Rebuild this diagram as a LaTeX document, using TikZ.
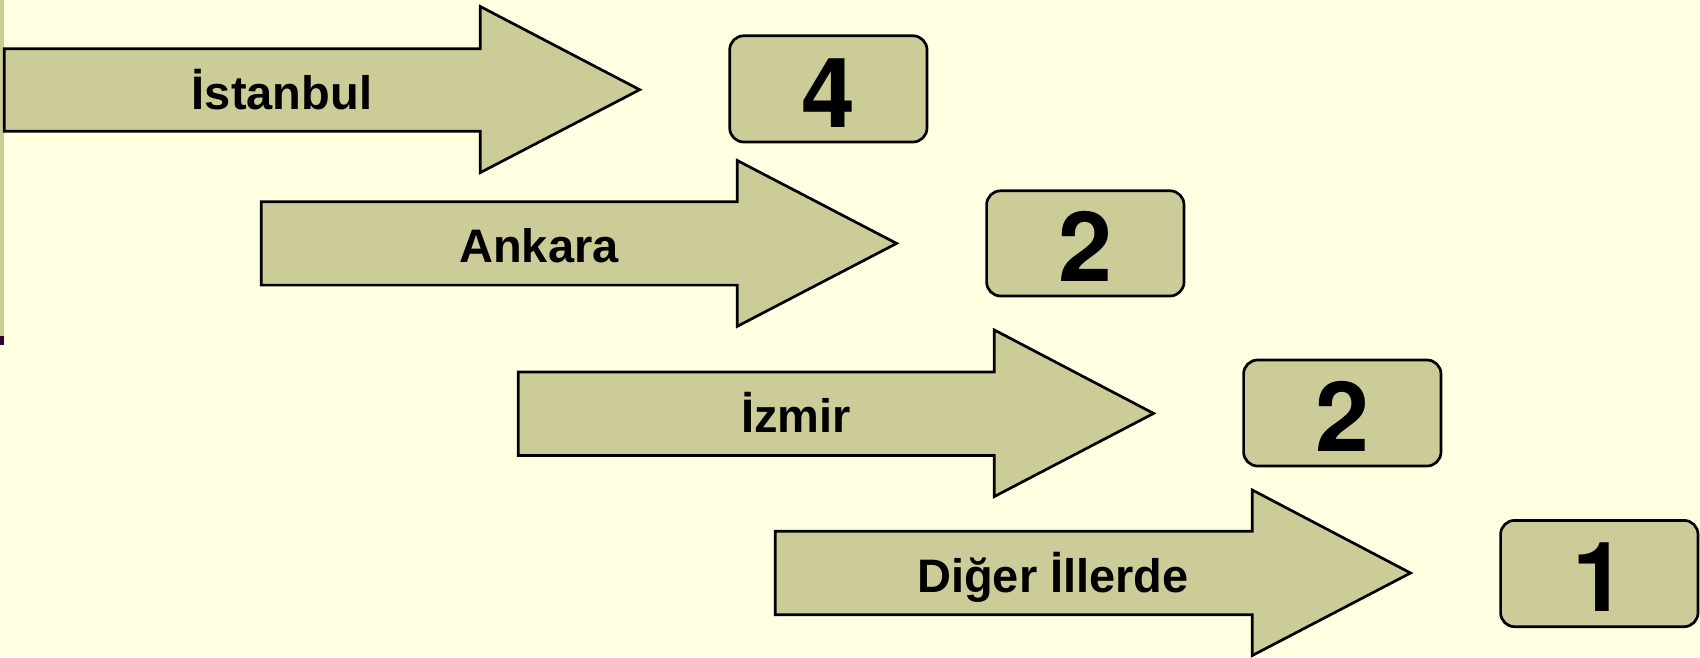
\documentclass[tikz,border=0pt]{standalone}
\usepackage{fontspec}
\setmainfont{Liberation Sans}
\newfontfamily\digitfont{TeX Gyre Heros}
\definecolor{bgyellow}{RGB}{255,255,225}
\definecolor{olive}{RGB}{204,204,153}
\definecolor{darkplum}{RGB}{51,0,51}
\tikzset{
  arrowshape/.style={draw=black, fill=olive, line width=2.7pt, line join=miter},
  numbox/.style={draw=black, fill=olive, line width=2.7pt, rounded corners=14pt},
  lbl/.style={anchor=base, inner sep=0pt, font=\fontsize{47}{50}\selectfont\bfseries},
  numlbl/.style={anchor=base, inner sep=0pt, font=\digitfont\fontsize{97}{100}\selectfont\bfseries}
}
\begin{document}
\begin{tikzpicture}[x=1pt,y=-1pt]
\useasboundingbox (0,0) rectangle (1700,657);
\fill[bgyellow] (0,0) rectangle (1700,657);
% left strip
\fill[olive] (0,0) rectangle (4,336);
\fill[darkplum] (0,336) rectangle (4,345);

% Arrow 1
\draw[arrowshape] (4.3,48.8) -- (480.3,48.8) -- (480.3,6.5) -- (639.7,89.7) -- (480.3,172.6) -- (480.3,131.2) -- (4.3,131.2) -- cycle;
\node[lbl] (l1) at (282,109) {İstanbul};
\draw[numbox] (729.7,35.8) rectangle (927,142);
\node[numlbl] (n1) at (828.3,127) {4};

% Arrow 2
\draw[arrowshape] (261.3,201.7) -- (737.3,201.7) -- (737.3,160.5) -- (896.6,243.4) -- (737.3,326.3) -- (737.3,285.1) -- (261.3,285.1) -- cycle;
\node[lbl] (l2) at (539,262.7) {Ankara};
\draw[numbox] (986.6,190.8) rectangle (1184,296);
\node[numlbl] (n2) at (1085.3,281) {2};

% Arrow 3
\draw[arrowshape] (518.2,371.9) -- (994.2,371.9) -- (994.2,329.9) -- (1153.6,413.4) -- (994.2,496.6) -- (994.2,455.4) -- (518.2,455.4) -- cycle;
\node[lbl] (l3) at (796,432.7) {İzmir};
\draw[numbox] (1243.6,360) rectangle (1441,466);
\node[numlbl] (n3) at (1342.3,451) {2};

% Arrow 4
\draw[arrowshape] (775.2,531.3) -- (1252.3,531.3) -- (1252.3,490) -- (1410.5,573) -- (1252.3,655.5) -- (1252.3,614.7) -- (775.2,614.7) -- cycle;
\node[lbl] (l4) at (1053,592.3) {Diğer İllerde};
\draw[numbox] (1500.6,520.4) rectangle (1698,626.7);
\node[numlbl] (n4) at (1599.3,611) {1};
\end{tikzpicture}
\end{document}
